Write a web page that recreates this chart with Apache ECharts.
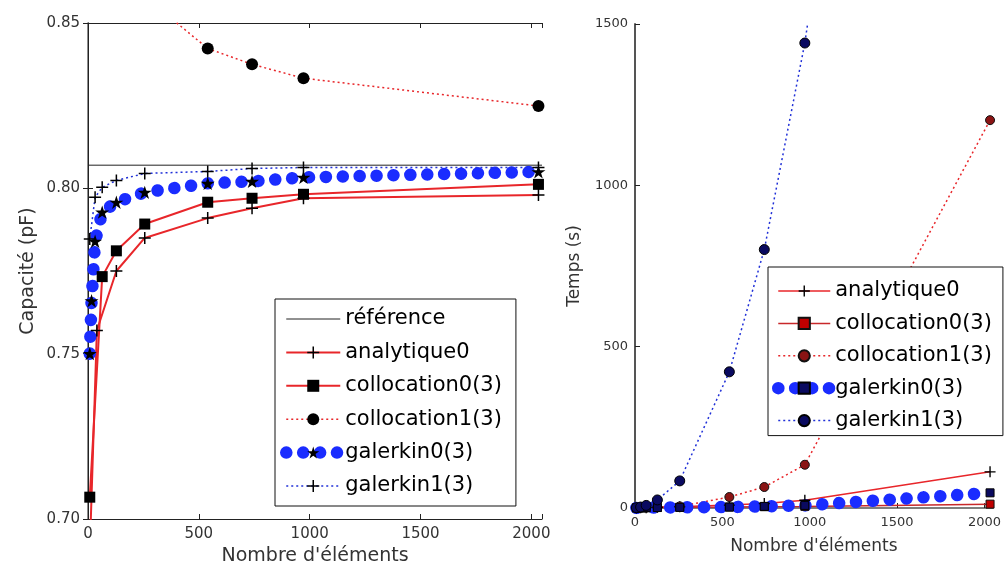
<!DOCTYPE html>
<html><head><meta charset="utf-8">
<script src="https://cdn.jsdelivr.net/npm/echarts@6/dist/echarts.min.js"></script>
<style>html,body{margin:0;padding:0;background:#fff}#c{width:1004px;height:571px}</style>
</head><body><div id="c"></div>
<script>
// ---------- data ----------
const xTicks = [0, 500, 1000, 1500, 2000];
const xMax = 2048;
const referencePF = 0.807;

// Left panel: capacitance (pF) vs number of elements
const xAnalytique = [8, 40, 128, 256, 540, 740, 972, 2032];
const capAnalytique0 = [0.690, 0.757, 0.775, 0.785, 0.791, 0.794, 0.797, 0.798];
const xColloc0 = [8, 64, 128, 256, 540, 740, 972, 2032];
const capCollocation0 = [0.7066, 0.7733, 0.7811, 0.7892, 0.7958, 0.7970, 0.7982, 0.8012];
const xColloc1 = [128, 256, 540, 740, 972, 2032];
const capCollocation1 = [0.885, 0.858, 0.8423, 0.8375, 0.8333, 0.8249];
const xGalerkin0 = [8, 16, 32, 64, 128, 256, 540, 740, 972, 2032];
const capGalerkin0 = [0.750, 0.766, 0.784, 0.7928, 0.7958, 0.7988, 0.8015, 0.8021, 0.8033, 0.8050];
const xGalerkin1 = [8, 32, 64, 128, 256, 540, 740, 972, 2032];
const capGalerkin1 = [0.7847, 0.7973, 0.8003, 0.8024, 0.8045, 0.8051, 0.8060, 0.8063, 0.8063];

// Right panel: time (s) vs number of elements
const xTime = [8, 32, 64, 128, 256, 540, 740, 972, 2032];
const tAnalytique0 = [0.2, 0.5, 1, 2, 4, 9, 14, 24, 112];
const tCollocation0 = [0.5, 0.7, 1, 1.5, 2, 3, 4, 5, 12];
const tCollocation1 = [0.5, 0.7, 1, 2, 5, 34, 65, 134, 1202];
const tGalerkin0 = [0.2, 0.5, 1, 1.5, 2, 3, 5, 8, 47];
const tGalerkin1 = [1, 3, 8, 25, 84, 422, 801, 1441, 5400];

const legendLeft = ['référence', 'analytique0', 'collocation0(3)', 'collocation1(3)', 'galerkin0(3)', 'galerkin1(3)'];
const legendRight = ['T:analytique0', 'T:collocation0(3)', 'T:collocation1(3)', 'T:galerkin0(3)', 'T:galerkin1(3)'];

// ---------- styling ----------
const FONT = 'DejaVu Sans';
const RED = '#e8262a';
const BLUE = '#2030d8';
const FATBLUE = '#1a2cff';
const PLUS = 'path://M5.25,0h1.5v5.25h5.25v1.5h-5.25v5.25h-1.5v-5.25h-5.25v-1.5h5.25z';
const STAR = 'path://M0,-10L2.245,-3.09L9.511,-3.09L3.633,1.18L5.878,8.09L0,3.82L-5.878,8.09L-3.633,1.18L-9.511,-3.09L-2.245,-3.09Z';

const pairs = (xs, ys) => xs.map((x, i) => [x, ys[i]]);

function line(name, gi, xs, ys, o) {
  return {
    type: 'line', name: name,
    xAxisIndex: gi === 0 ? 0 : 2, yAxisIndex: gi === 0 ? 0 : 2,
    data: pairs(xs, ys),
    symbol: o.symbol, symbolSize: o.size, symbolKeepAspect: true,
    showSymbol: o.symbol !== 'none', showAllSymbol: true,
    itemStyle: { color: o.fill || '#000', borderColor: o.border || 'transparent', borderWidth: o.border ? 1 : 0 },
    lineStyle: { color: o.color, width: o.width || 1.5, type: o.type || 'solid', cap: o.cap || 'butt' },
    emphasis: { disabled: true }, clip: true, animation: false, z: o.z || 2
  };
}

const fatDots = { color: FATBLUE, width: 12.5, type: [0.1, 16.8], cap: 'round' };
const dotted = [2, 3];

const series = [
  line('référence', 0, [0, xMax], [referencePF, referencePF], { symbol: 'none', color: '#222', width: 1 }),
  line('analytique0', 0, xAnalytique, capAnalytique0, { symbol: PLUS, size: 12, color: RED, width: 2 }),
  line('collocation0(3)', 0, xColloc0, capCollocation0, { symbol: 'rect', size: 11, color: RED, width: 2 }),
  line('collocation1(3)', 0, xColloc1, capCollocation1, { symbol: 'circle', size: 12, color: RED, width: 1.5, type: dotted }),
  line('galerkin0(3)', 0, xGalerkin0, capGalerkin0, Object.assign({ symbol: STAR, size: 14 }, fatDots)),
  line('galerkin1(3)', 0, xGalerkin1, capGalerkin1, { symbol: PLUS, size: 12, color: BLUE, width: 1.5, type: dotted }),

  line('T:analytique0', 1, xTime, tAnalytique0, { symbol: PLUS, size: 11, color: RED, width: 1.5 }),
  line('T:collocation0(3)', 1, xTime, tCollocation0, { symbol: 'rect', size: 8, color: '#c8282a', width: 1.5, fill: '#c00000', border: '#111' }),
  line('T:collocation1(3)', 1, xTime, tCollocation1, { symbol: 'circle', size: 9, color: RED, width: 1.5, type: dotted, fill: '#8a1414', border: '#111' }),
  line('T:galerkin0(3)', 1, xTime, tGalerkin0, Object.assign({ symbol: 'rect', size: 8, fill: '#0a0a60', border: '#000' }, fatDots)),
  line('T:galerkin1(3)', 1, xTime, tGalerkin1, { symbol: 'circle', size: 10, color: BLUE, width: 1.5, type: dotted, fill: '#0a0a60', border: '#000' })
];

const axisLineDark = { lineStyle: { color: '#222', width: 1 } };
const tickIn = { inside: true, length: 5, lineStyle: { color: '#222' } };
const lbl = (size) => ({ fontFamily: FONT, fontSize: size, color: '#333', margin: 8 });
const xfmt = v => (xTicks.indexOf(v) >= 0 ? String(v) : '');

const legendCommon = {
  orient: 'vertical', selectedMode: false,
  backgroundColor: '#fff', borderColor: '#111', borderWidth: 1, borderRadius: 0,
  lineStyle: { width: 'inherit', type: 'inherit', cap: 'inherit' },
  textStyle: { fontFamily: FONT, fontSize: 21, color: '#000', lineHeight: 22 }
};
const legendItems = (names) => names.map(n => n === 'référence'
  ? { name: n, itemStyle: { opacity: 0 } }
  : { name: n });

const option = {
  backgroundColor: '#fff',
  animation: false,
  grid: [
    { left: 88, top: 23, width: 454, height: 499 },
    { left: 635, top: 24, width: 365, height: 484 }
  ],
  xAxis: [
    { gridIndex: 0, type: 'value', position: 'bottom', min: 0, max: xMax, interval: 500,
      axisLine: axisLineDark, axisTick: tickIn, splitLine: { show: false },
      axisLabel: Object.assign(lbl(15), { formatter: xfmt }),
      name: "Nombre d'éléments", nameLocation: 'middle', nameGap: 28,
      nameTextStyle: { fontFamily: FONT, fontSize: 19, color: '#333' } },
    { gridIndex: 0, type: 'value', position: 'top', min: 0, max: xMax, interval: 500,
      axisLine: axisLineDark, axisTick: tickIn, splitLine: { show: false }, axisLabel: { show: false } },
    { gridIndex: 1, type: 'value', position: 'bottom', min: 0, max: xMax, interval: 500,
      axisLine: { lineStyle: { color: '#555', width: 1.5 } }, axisTick: tickIn, splitLine: { show: false },
      axisLabel: Object.assign(lbl(13), { formatter: xfmt }),
      name: "Nombre d'éléments", nameLocation: 'middle', nameGap: 30,
      nameTextStyle: { fontFamily: FONT, fontSize: 17, color: '#333' } }
  ],
  yAxis: [
    { gridIndex: 0, type: 'value', position: 'left', min: 0.70, max: 0.85, interval: 0.05,
      axisLine: { lineStyle: { color: '#666', width: 1.5 } }, axisTick: tickIn, splitLine: { show: false },
      axisLabel: Object.assign(lbl(15), { formatter: v => v.toFixed(2) }),
      name: 'Capacité (pF)', nameLocation: 'middle', nameGap: 50, nameRotate: 90,
      nameTextStyle: { fontFamily: FONT, fontSize: 19, color: '#333' } },
    { gridIndex: 0, type: 'value', position: 'right', min: 0.70, max: 0.85, interval: 0.05,
      axisLine: axisLineDark, axisTick: tickIn, splitLine: { show: false }, axisLabel: { show: false } },
    { gridIndex: 1, type: 'value', position: 'left', min: 0, max: 1500, interval: 500,
      axisLine: { lineStyle: { color: '#555', width: 2 } }, axisTick: tickIn, splitLine: { show: false },
      axisLabel: Object.assign(lbl(13), { margin: 7, formatter: v => String(v) }),
      name: 'Temps (s)', nameLocation: 'middle', nameGap: 52, nameRotate: 90,
      nameTextStyle: { fontFamily: FONT, fontSize: 17, color: '#333' } }
  ],
  legend: [
    Object.assign({}, legendCommon, {
      data: legendItems(legendLeft), left: 275, top: 299, padding: [9, 14, 9, 5],
      itemGap: 11.4, itemWidth: 54, itemHeight: 15 }),
    Object.assign({}, legendCommon, {
      data: legendItems(legendRight), left: 768, top: 267, padding: [13, 11, 4, 4],
      itemGap: 10.4, itemWidth: 52, itemHeight: 14,
      formatter: n => n.replace(/^T:/, '') })
  ],
  series: series
};

const chart = echarts.init(document.getElementById('c'), null, { renderer: 'canvas' });
chart.setOption(option);
</script>
</body></html>
